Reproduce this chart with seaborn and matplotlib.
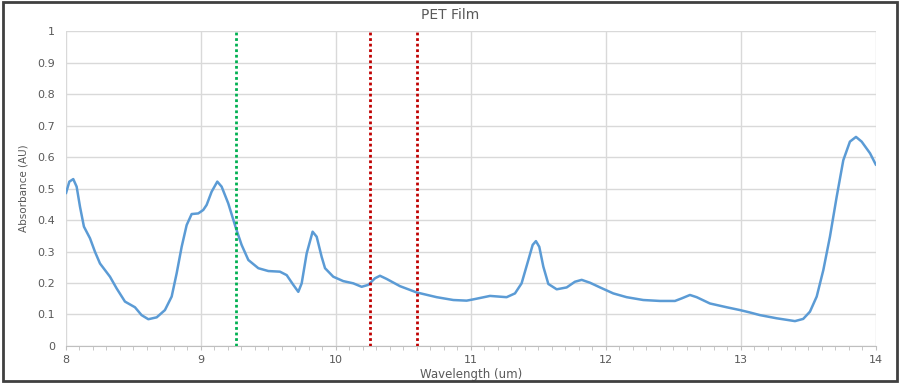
import numpy as np
import pandas as pd
import seaborn as sns
import matplotlib.pyplot as plt
from matplotlib.patches import Rectangle
from matplotlib.ticker import MultipleLocator, FuncFormatter

# spectrum
wavelength = [8.000, 8.025, 8.054, 8.079, 8.104, 8.133, 8.178, 8.215, 8.252, 8.326,
              8.375, 8.437, 8.511, 8.560, 8.610, 8.672, 8.733, 8.783, 8.820, 8.857,
              8.894, 8.931, 8.980, 9.017, 9.042, 9.079, 9.121, 9.153, 9.202, 9.259,
              9.301, 9.351, 9.425, 9.499, 9.585, 9.635, 9.684, 9.721, 9.746, 9.783,
              9.827, 9.857, 9.894, 9.919, 9.980, 10.054, 10.128, 10.190, 10.239,
              10.289, 10.326, 10.375, 10.474, 10.598, 10.746, 10.869, 10.968, 11.017,
              11.141, 11.264, 11.326, 11.375, 11.425, 11.457, 11.481, 11.506, 11.536,
              11.573, 11.635, 11.709, 11.770, 11.820, 11.881, 11.956, 12.054, 12.153,
              12.276, 12.400, 12.511, 12.560, 12.622, 12.672, 12.770, 12.894, 12.993,
              13.061, 13.141, 13.264, 13.400, 13.461, 13.511, 13.561, 13.610, 13.659,
              13.709, 13.758, 13.807, 13.852, 13.894, 13.956, 14.000]
absorbance = [0.485, 0.522, 0.530, 0.506, 0.442, 0.379, 0.342, 0.299, 0.262, 0.220,
              0.183, 0.141, 0.123, 0.098, 0.085, 0.091, 0.114, 0.157, 0.231, 0.315,
              0.384, 0.419, 0.421, 0.432, 0.448, 0.490, 0.522, 0.506, 0.453, 0.374,
              0.321, 0.273, 0.247, 0.238, 0.236, 0.225, 0.194, 0.172, 0.199, 0.294,
              0.363, 0.347, 0.283, 0.247, 0.220, 0.206, 0.199, 0.188, 0.194,
              0.215, 0.223, 0.213, 0.190, 0.170, 0.155, 0.146, 0.144, 0.148,
              0.159, 0.155, 0.167, 0.199, 0.273, 0.321, 0.333, 0.315, 0.252,
              0.197, 0.180, 0.186, 0.204, 0.210, 0.201, 0.186, 0.167, 0.155,
              0.146, 0.143, 0.143, 0.151, 0.162, 0.155, 0.135, 0.123, 0.114,
              0.107, 0.098, 0.088, 0.079, 0.086, 0.109, 0.157, 0.241, 0.347,
              0.474, 0.590, 0.649, 0.664, 0.649, 0.612, 0.575]

green_marker = 9.26
red_markers = [10.25, 10.60]

df = pd.DataFrame({'Wavelength': wavelength, 'Absorbance': absorbance})

sns.set_style('white')
fig = plt.figure(figsize=(9, 3.84), dpi=100)
ax = fig.add_axes([0.0733, 0.099, 0.90, 0.82])

grey = '#595959'
grid_c = '#d9d9d9'

sns.lineplot(data=df, x='Wavelength', y='Absorbance', ax=ax, color='#5b9bd5', linewidth=1.8, zorder=3)

ax.axvline(green_marker, color='#00b050', linestyle=(0, (1, 1)), linewidth=2, zorder=4)
for xr in red_markers:
    ax.axvline(xr, color='#c00000', linestyle=(0, (1, 1)), linewidth=2, zorder=4)

ax.set_xlim(8, 14)
ax.set_ylim(0, 1)
ax.xaxis.set_major_locator(MultipleLocator(1))
ax.xaxis.set_minor_locator(MultipleLocator(0.1))
ax.yaxis.set_major_locator(MultipleLocator(0.1))
ax.yaxis.set_major_formatter(FuncFormatter(lambda v, p: f'{v:.1f}'.rstrip('0').rstrip('.') if v else '0'))
ax.grid(True, which='major', color=grid_c, linewidth=1)
ax.set_axisbelow(True)

for s in ['top', 'right', 'left']:
    ax.spines[s].set_visible(False)
ax.spines['bottom'].set_color('#bfbfbf')
ax.tick_params(axis='x', which='minor', length=3, color='#bfbfbf', direction='out', bottom=True)
ax.tick_params(axis='x', which='major', length=3, color='#bfbfbf', labelsize=8, labelcolor=grey, bottom=True)
ax.tick_params(axis='y', length=0, labelsize=8, labelcolor=grey, pad=8)

ax.set_xlabel('Wavelength (um)', fontsize=8.5, color=grey, labelpad=2)
ax.set_ylabel('Absorbance (AU)', fontsize=7.5, color=grey, family='Liberation Sans Narrow', labelpad=6)
fig.text(0.5, 0.96, 'PET Film', ha='center', va='center', fontsize=10, color=grey)

fig.patches.append(Rectangle((0.003, 0.008), 0.994, 0.986, transform=fig.transFigure,
                             fill=False, edgecolor='#404040', linewidth=2))

fig.savefig('out.png', dpi=100)
